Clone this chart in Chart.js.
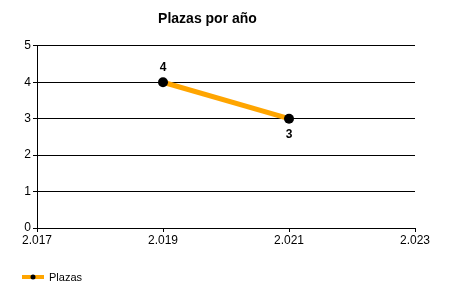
<!DOCTYPE html>
<html>
<head>
<meta charset="utf-8">
<script src="https://cdn.jsdelivr.net/npm/chart.js@4"></script>
<style>
  html, body { margin: 0; padding: 0; background: #fff; }
  #wrap { width: 450px; height: 300px; }
</style>
</head>
<body>
<div id="wrap"><canvas id="chart"></canvas></div>
<script>
// data
const years = [2019, 2021];
const plazas = [4, 3];
const seriesName = 'Plazas';
const xTicks = [2017, 2019, 2021, 2023];
const yTicks = [0, 1, 2, 3, 4, 5];

const font = '"Liberation Sans", Arial, sans-serif';

// value labels: above the first point, below the second
const valueLabels = {
    id: 'valueLabels',
    afterDatasetsDraw(chart) {
        const ctx = chart.ctx;
        const pts = chart.getDatasetMeta(0).data;
        ctx.save();
        ctx.font = 'bold 12px ' + font;
        ctx.fillStyle = '#000';
        ctx.textAlign = 'center';
        ctx.textBaseline = 'middle';
        pts.forEach((p, i) => {
            const up = i === 0;
            ctx.fillText(String(plazas[i]), p.x, up ? p.y - 15 : p.y + 16);
        });
        ctx.restore();
    }
};

// legend at the bottom left: orange line with a black dot
const bottomLegend = {
    id: 'bottomLegend',
    afterDraw(chart) {
        const ctx = chart.ctx;
        const y = 277;
        ctx.save();
        ctx.strokeStyle = '#FFA500';
        ctx.lineWidth = 4;
        ctx.beginPath();
        ctx.moveTo(22, y);
        ctx.lineTo(44, y);
        ctx.stroke();
        ctx.fillStyle = '#000';
        ctx.beginPath();
        ctx.arc(33, y, 2.5, 0, Math.PI * 2);
        ctx.fill();
        ctx.font = '11px ' + font;
        ctx.textBaseline = 'middle';
        ctx.fillText(seriesName, 49, y + 1);
        ctx.restore();
    }
};

new Chart(document.getElementById('chart'), {
    type: 'line',
    data: {
        datasets: [{
            label: seriesName,
            data: years.map((x, i) => ({ x: x, y: plazas[i] })),
            borderColor: '#FFA500',
            borderWidth: 5,
            pointRadius: 5,
            pointHoverRadius: 5,
            pointBackgroundColor: '#000',
            pointBorderColor: '#000',
            pointBorderWidth: 0,
            tension: 0
        }]
    },
    options: {
        responsive: true,
        maintainAspectRatio: false,
        animation: false,
        layout: { padding: { left: 0, right: 35, top: 0, bottom: 32 } },
        plugins: {
            legend: { display: false },
            tooltip: { enabled: false },
            title: {
                display: true,
                text: 'Plazas por año',
                color: '#000',
                font: { family: font, size: 14, weight: 'bold' },
                padding: { top: 11, bottom: 18 }
            }
        },
        scales: {
            x: {
                type: 'linear',
                min: xTicks[0],
                max: xTicks[xTicks.length - 1],
                afterBuildTicks: s => { s.ticks = xTicks.map(v => ({ value: v })); },
                afterFit: s => { s.height = 40; },
                border: { display: true, color: '#000', width: 1 },
                grid: { drawOnChartArea: false, drawTicks: true, tickLength: 4, color: '#000' },
                ticks: {
                    color: '#000',
                    padding: 1,
                    maxRotation: 0,
                    font: { family: font, size: 12 },
                    callback: v => (v / 1000).toFixed(3)
                }
            },
            y: {
                min: yTicks[0],
                max: yTicks[yTicks.length - 1],
                afterBuildTicks: s => { s.ticks = yTicks.map(v => ({ value: v })); },
                afterFit: s => { s.width = 37; },
                border: { display: true, color: '#000', width: 1 },
                grid: { color: '#000', drawTicks: true, tickLength: 4 },
                ticks: {
                    color: '#000',
                    padding: 2,
                    font: { family: font, size: 12 }
                }
            }
        }
    },
    plugins: [valueLabels, bottomLegend]
});
</script>
</body>
</html>
